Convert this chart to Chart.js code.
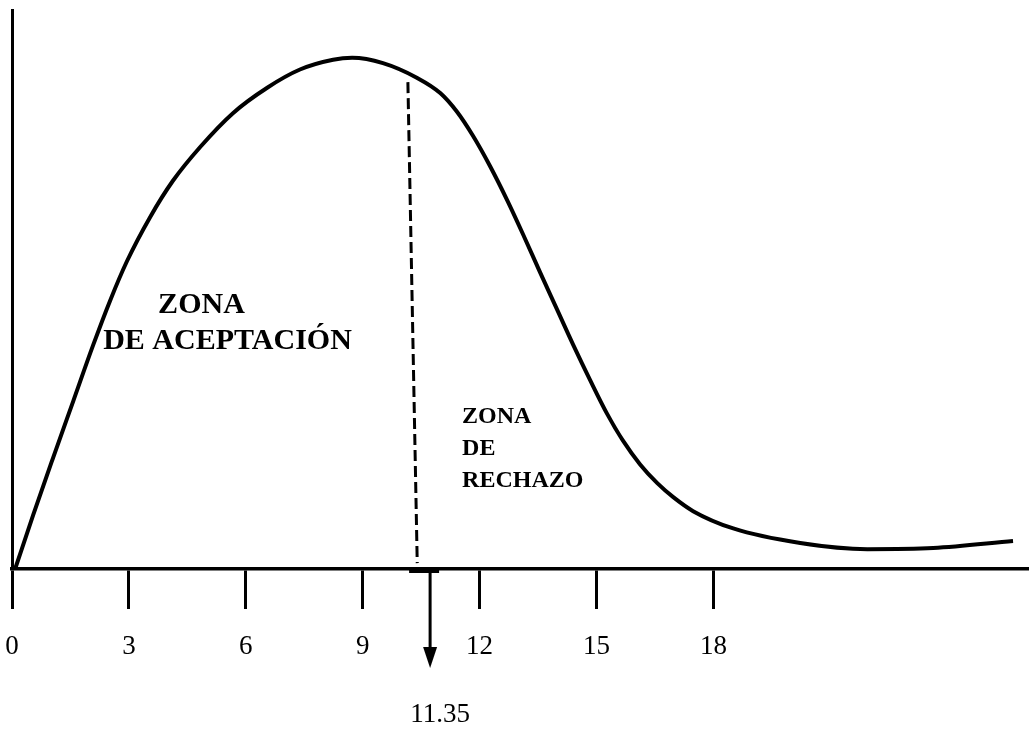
<!DOCTYPE html>
<html>
<head>
<meta charset="utf-8">
<script src="https://cdn.jsdelivr.net/npm/chart.js@4.4.1/dist/chart.umd.min.js"></script>
<style>
  html, body { margin: 0; padding: 0; background: #fff; }
  #wrap { width: 1029px; height: 729px; position: relative; }
</style>
</head>
<body>
<div id="wrap"><canvas id="c" width="1029" height="729"></canvas></div>
<script>
// ---- data ----
const xTickValues = [0, 3, 6, 9, 12, 15, 18];
const xTickLabels = ['0', '3', '6', '9', '12', '15', '18'];

const curveX = [0.08, 0.54, 1.05, 1.57, 2.08, 2.52, 2.95, 3.54, 4.13, 4.83, 5.67, 6.55, 7.39, 8.24,
                8.73, 9.52, 10.40, 10.99, 11.42, 11.83, 12.27, 12.71, 13.12, 13.55, 13.99, 14.40,
                14.84, 15.27, 15.68, 16.12, 16.56, 16.97, 17.48, 18.51, 20.23, 21.95, 23.64, 25.69];
const curveY = [0.0000, 0.0192, 0.0396, 0.0600, 0.0800, 0.0961, 0.1101, 0.1258, 0.1389, 0.1510,
                0.1631, 0.1722, 0.1787, 0.1822, 0.1829, 0.1810, 0.1757, 0.1703, 0.1636, 0.1550,
                0.1441, 0.1319, 0.1196, 0.1062, 0.0928, 0.0803, 0.0675, 0.0556, 0.0459, 0.0374,
                0.0307, 0.0257, 0.0207, 0.0145, 0.0093, 0.0071, 0.0075, 0.0100];

const dashX = [10.16, 10.40];
const dashY = [0.1742, 0.0021];

const arrowX = 10.73;
const criticalLabel = '11.35';

const acceptLines = ['ZONA', 'DE ACEPTACIÓN'];
const acceptX = [3.75, 2.34];
const acceptY = [0.0916, 0.0787];

const rejectLines = ['ZONA', 'DE', 'RECHAZO'];
const rejectX = [11.55, 11.55, 11.55];
const rejectY = [0.0522, 0.0408, 0.0293];

const X_MIN = 0, X_MAX = 26.1, Y_MIN = 0, Y_MAX = 0.2;

// ---- drawing ----
const zip = (xs, ys) => xs.map((x, i) => ({ x: x, y: ys[i] }));

const annotate = {
  id: 'annotate',
  afterDraw(chart) {
    const ctx = chart.ctx;
    const xs = chart.scales.x, ys = chart.scales.y;
    ctx.save();
    ctx.fillStyle = '#000';
    ctx.textAlign = 'left';
    ctx.textBaseline = 'alphabetic';
    ctx.font = 'bold 30px "Liberation Serif", "Times New Roman", serif';
    acceptLines.forEach((t, i) => ctx.fillText(t, xs.getPixelForValue(acceptX[i]), ys.getPixelForValue(acceptY[i])));
    ctx.font = 'bold 24px "Liberation Serif", "Times New Roman", serif';
    rejectLines.forEach((t, i) => ctx.fillText(t, xs.getPixelForValue(rejectX[i]), ys.getPixelForValue(rejectY[i])));

    // arrow from the axis down to the critical value label
    const ax = xs.getPixelForValue(arrowX);
    const y0 = ys.getPixelForValue(0);
    ctx.strokeStyle = '#000';
    ctx.lineWidth = 4;
    ctx.beginPath();
    ctx.moveTo(ax - 21, y0 + 2);
    ctx.lineTo(ax + 9, y0 + 2);
    ctx.stroke();
    ctx.lineWidth = 3;
    ctx.beginPath();
    ctx.moveTo(ax, y0);
    ctx.lineTo(ax, y0 + 80);
    ctx.stroke();
    ctx.beginPath();
    ctx.moveTo(ax - 7, y0 + 78);
    ctx.lineTo(ax + 7, y0 + 78);
    ctx.lineTo(ax, y0 + 99);
    ctx.closePath();
    ctx.fill();

    ctx.font = '27px "Liberation Serif", "Times New Roman", serif';
    ctx.textAlign = 'center';
    ctx.textBaseline = 'middle';
    ctx.fillText(criticalLabel, ax + 10, y0 + 146);
    ctx.restore();
  }
};

new Chart(document.getElementById('c'), {
  type: 'line',
  data: {
    datasets: [
      {
        data: zip(curveX, curveY),
        borderColor: '#000',
        borderWidth: 4,
        pointRadius: 0,
        cubicInterpolationMode: 'monotone',
        fill: false
      },
      {
        data: zip(dashX, dashY),
        borderColor: '#000',
        borderWidth: 3,
        borderDash: [11, 5],
        pointRadius: 0,
        tension: 0,
        fill: false
      }
    ]
  },
  options: {
    responsive: false,
    animation: false,
    events: [],
    layout: { padding: { top: 10, left: 0, right: 0, bottom: 0 } },
    plugins: { legend: { display: false }, tooltip: { enabled: false } },
    scales: {
      x: {
        type: 'linear',
        min: X_MIN, max: X_MAX,
        afterBuildTicks(s) { s.ticks = xTickValues.map(v => ({ value: v })); },
        afterFit(s) { s.height = 160; s.paddingLeft = 0; s.paddingRight = 0; },
        grid: { display: true, drawOnChartArea: false, drawTicks: true, tickLength: 40, lineWidth: 3, color: '#000' },
        border: { display: true, width: 3.5, color: '#000' },
        ticks: {
          autoSkip: false,
          maxRotation: 0,
          padding: 22,
          color: '#000',
          font: { family: '"Liberation Serif", "Times New Roman", serif', size: 27 },
          callback(v) { const i = xTickValues.indexOf(v); return i >= 0 ? xTickLabels[i] : ''; }
        }
      },
      y: {
        type: 'linear',
        min: Y_MIN, max: Y_MAX,
        afterFit(s) { s.width = 12; s.paddingTop = 0; s.paddingBottom = 0; },
        grid: { display: false },
        border: { display: true, width: 3, color: '#000' },
        ticks: { display: false }
      }
    }
  },
  plugins: [annotate]
});
</script>
</body>
</html>
